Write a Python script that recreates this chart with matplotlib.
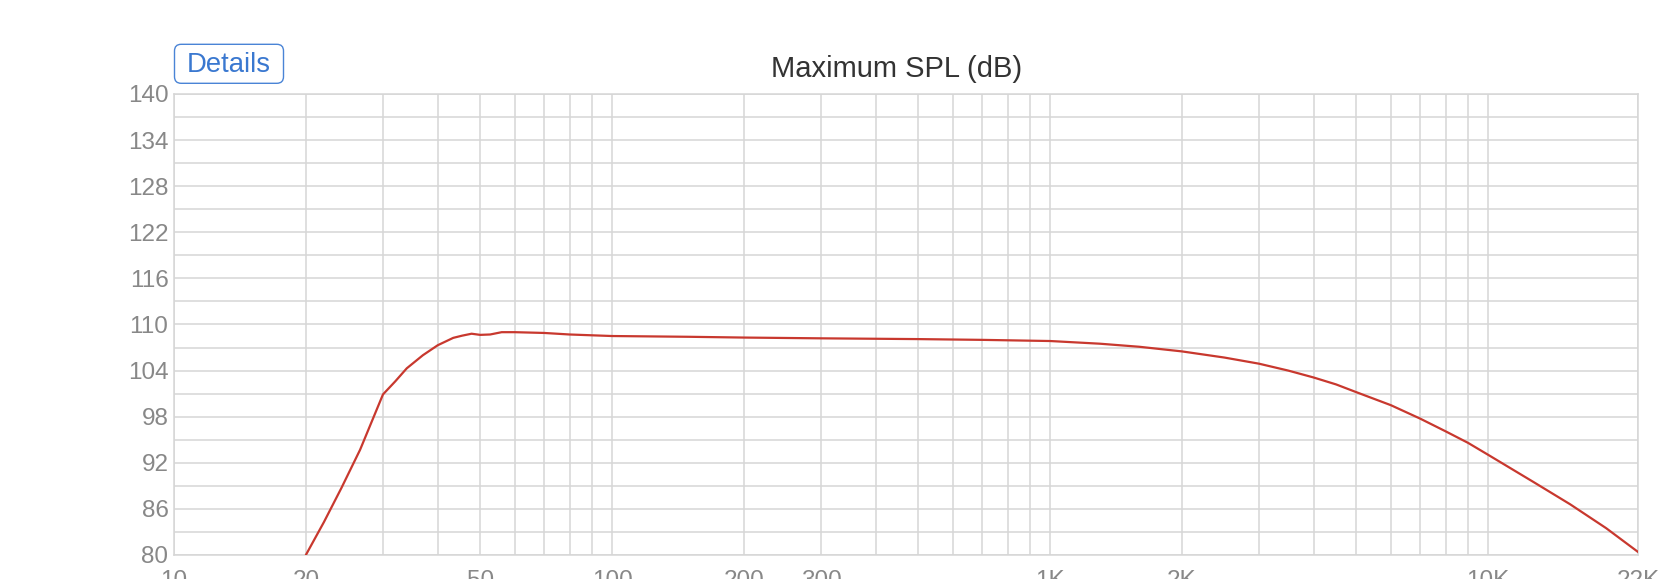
import matplotlib
matplotlib.use("Agg")
import matplotlib.pyplot as plt
from matplotlib.patches import FancyBboxPatch
from matplotlib.ticker import FixedLocator, FixedFormatter, NullFormatter

plt.rcParams['font.family'] = ['Liberation Sans', 'DejaVu Sans']

# ---- data ----
freq_hz = [20, 22, 24.1, 26.6, 30, 32, 34, 37, 40, 43.4, 45.5, 47.8, 50, 52.7,
           56, 60, 70, 80, 100, 150, 200, 300, 500, 700, 1000, 1300, 1600,
           2000, 2500, 3000, 3500, 4000, 4500, 5000, 6000, 7000, 8000, 9000,
           10000, 12700, 15400, 18600, 22000]
max_spl_db = [80, 84.3, 88.7, 93.7, 100.9, 102.6, 104.3, 106.0, 107.3, 108.26,
              108.55, 108.8, 108.65, 108.7, 109.0, 109.0, 108.9, 108.7, 108.5,
              108.4, 108.3, 108.2, 108.1, 108.0, 107.85, 107.5, 107.1, 106.5,
              105.7, 104.9, 104.0, 103.1, 102.2, 101.2, 99.5, 97.75, 96.1,
              94.6, 93.05, 89.5, 86.6, 83.5, 80.4]

x_tick_values = [10, 20, 50, 100, 200, 300, 1000, 2000, 10000, 22000]
x_tick_labels = ["10", "20", "50", "100", "200", "300", "1K", "2K", "10K", "22K"]
x_minor_values = [30, 40, 60, 70, 80, 90, 400, 500, 600, 700, 800, 900,
                  3000, 4000, 5000, 6000, 7000, 8000, 9000]
y_tick_values = [80, 86, 92, 98, 104, 110, 116, 122, 128, 134, 140]
y_minor_values = [83, 89, 95, 101, 107, 113, 119, 125, 131, 137]

title_text = "Maximum SPL (dB)"
button_text = "Details"

# ---- figure ----
W, H = 1667, 579
fig = plt.figure(figsize=(W / 100, H / 100), dpi=100)
ax = fig.add_axes([174 / W, 1 - 555 / H, (1638 - 174) / W, (555 - 94) / H])

grid_col = "#d6d6d6"
ax.plot(freq_hz, max_spl_db, color="#c8382e", lw=1.6, zorder=3,
        solid_joinstyle="round", solid_capstyle="round")

ax.set_xscale("log")
ax.set_xlim(10, 22000)
ax.set_ylim(80, 140)

ax.xaxis.set_major_locator(FixedLocator(x_tick_values))
ax.xaxis.set_major_formatter(FixedFormatter(x_tick_labels))
ax.xaxis.set_minor_locator(FixedLocator(x_minor_values))
ax.xaxis.set_minor_formatter(NullFormatter())
ax.yaxis.set_major_locator(FixedLocator(y_tick_values))
ax.yaxis.set_minor_locator(FixedLocator(y_minor_values))

ax.grid(True, which="both", color=grid_col, lw=1.1)
ax.set_axisbelow(True)
ax.tick_params(which="both", length=0)
ax.tick_params(axis="y", labelsize=17.5, labelcolor="#888888", pad=4)
ax.tick_params(axis="x", labelsize=17.5, labelcolor="#888888", pad=11)
for sp in ax.spines.values():
    sp.set_color(grid_col)
    sp.set_linewidth(1.1)

# title
fig.text(897 / W, 1 - 76.7 / H, title_text, ha="center", va="baseline",
         fontsize=21, color="#333333")

# Details button
x0, y0 = 174.5 / W, 1 - 83.3 / H
bw, bh = 109 / W, 39 / H
box = FancyBboxPatch((x0, y0), bw, bh, boxstyle="round,pad=0,rounding_size=0.004",
                     transform=fig.transFigure, facecolor="white",
                     edgecolor="#4a84d6", lw=1.0, mutation_aspect=W / H)
fig.patches.append(box)
fig.text(228.5 / W, 1 - 72.3 / H, button_text, ha="center", va="baseline",
         fontsize=19.8, color="#3a78d0")

fig.savefig("out.png", dpi=100)
